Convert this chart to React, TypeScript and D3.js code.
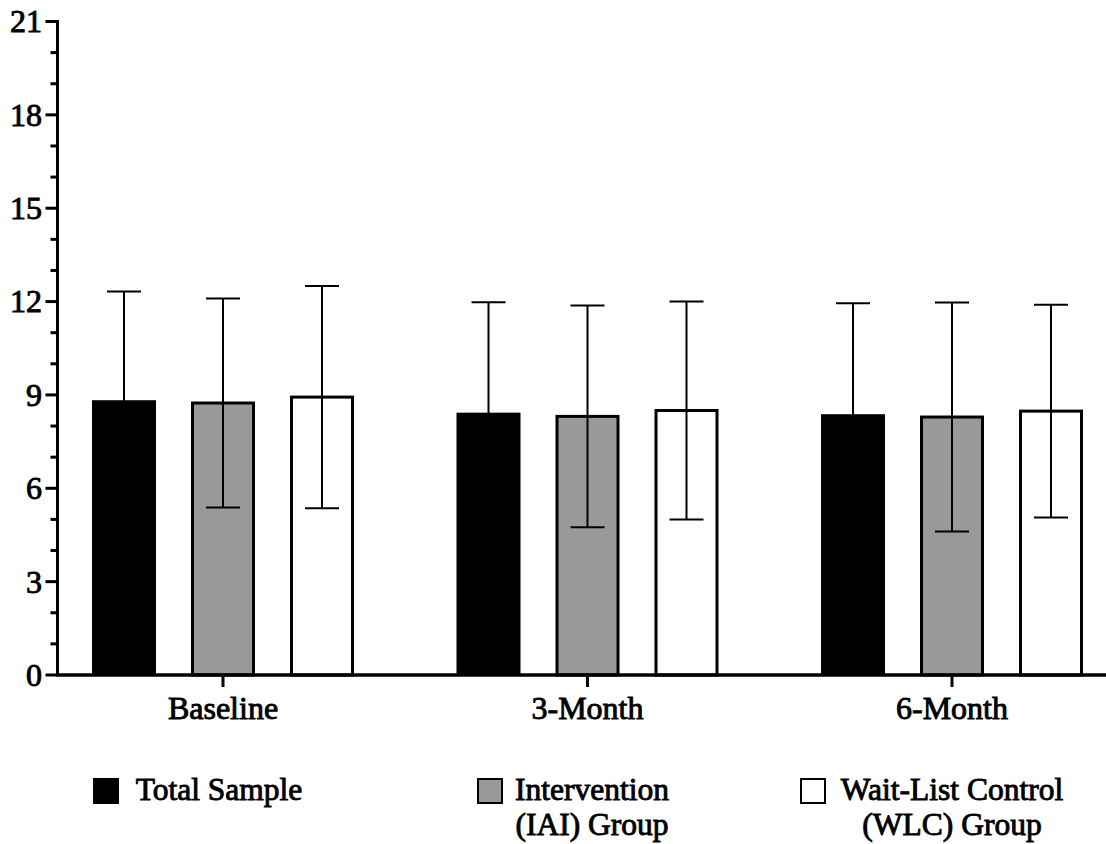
import React from "react";
import * as d3 from "d3";

// Time points and groups
const timepoints = ["Baseline", "3-Month", "6-Month"];
const groups = ["Total Sample", "Intervention (IAI) Group", "Wait-List Control (WLC) Group"];
const groupLegendLines = [["Total Sample"], ["Intervention", "(IAI) Group"], ["Wait-List Control", "(WLC) Group"]];

// Means per group, listed by time point
const meanTotal = [8.83, 8.43, 8.38];
const meanIAI = [8.74, 8.31, 8.29];
const meanWLC = [8.93, 8.50, 8.48];

// Standard deviations per group, listed by time point
const sdTotal = [3.49, 3.55, 3.57];
const sdIAI = [3.36, 3.56, 3.68];
const sdWLC = [3.57, 3.50, 3.42];

const yTicks = [0, 3, 6, 9, 12, 15, 18, 21];
const yMinorTicks = d3.range(0, 22, 1).filter((v) => v % 3 !== 0);

const fills = ["#000000", "#999999", "#ffffff"];

const W = 1106;
const H = 844;
const FONT = '"Liberation Serif", "Times New Roman", Times, serif';
const TEXT_WEIGHT = 0.9;

const textStyle = { fontFamily: FONT };

export default function App() {
  const means = [meanTotal, meanIAI, meanWLC];
  const sds = [sdTotal, sdIAI, sdWLC];

  const y = d3.scaleLinear().domain([0, 21]).range([675, 21.5]);
  const x = d3.scaleBand().domain(timepoints).range([40.75, 1134.25]).padding(0);
  const xs = d3
    .scaleBand()
    .domain(groups)
    .range([-131, 131])
    .paddingInner(35 / 99)
    .paddingOuter(0);

  const axisX = 57.5;
  const capHalf = 17;

  const legendCenters = [219, 592, 952];
  const legendSquares = [93, 477, 800];

  return (
    <svg
      width={W}
      height={H}
      style={{ position: "absolute", left: 0, top: 0, background: "#fff", fontFamily: FONT }}
    >
      {/* bars */}
      {timepoints.map((t, ti) =>
        groups.map((g, gi) => {
          const x0 = (x(t) as number) + x.bandwidth() / 2 + (xs(g) as number);
          const m = means[gi][ti];
          return (
            <rect
              key={`bar-${t}-${g}`}
              x={x0 + (gi === 0 ? 0 : 1.5)}
              y={y(m)}
              width={xs.bandwidth() - (gi === 0 ? 0 : 3)}
              height={y(0) - y(m)}
              fill={fills[gi]}
              stroke={gi === 0 ? "none" : "#000"}
              strokeWidth={3}
            />
          );
        })
      )}

      {/* error bars */}
      {timepoints.map((t, ti) =>
        groups.map((g, gi) => {
          const cx = (x(t) as number) + x.bandwidth() / 2 + (xs(g) as number) + xs.bandwidth() / 2;
          const m = means[gi][ti];
          const s = sds[gi][ti];
          const hi = y(m + s);
          const lo = y(m - s);
          return (
            <g key={`err-${t}-${g}`} stroke="#000" strokeWidth={2}>
              <line x1={cx} x2={cx} y1={hi} y2={lo} />
              <line x1={cx - capHalf} x2={cx + capHalf} y1={hi} y2={hi} />
              <line x1={cx - capHalf} x2={cx + capHalf} y1={lo} y2={lo} />
            </g>
          );
        })
      )}

      {/* y axis */}
      <line x1={axisX} x2={axisX} y1={y(21) - 1.5} y2={y(0) + 1.5} stroke="#000" strokeWidth={3} />
      {yTicks.map((v) => (
        <g key={`yt-${v}`}>
          <line x1={axisX - 12} x2={axisX} y1={y(v)} y2={y(v)} stroke="#000" strokeWidth={3} />
          <text
            x={42}
            y={y(v)}
            dy="0.34em"
            textAnchor="end"
            fontSize={32}
            fill="#000"
            stroke="#000"
            strokeWidth={TEXT_WEIGHT}
            style={textStyle}
          >
            {v}
          </text>
        </g>
      ))}
      {yMinorTicks.map((v) => (
        <line key={`ym-${v}`} x1={axisX - 7} x2={axisX} y1={y(v)} y2={y(v)} stroke="#000" strokeWidth={3} />
      ))}

      {/* x axis */}
      <line x1={axisX} x2={W} y1={y(0)} y2={y(0)} stroke="#000" strokeWidth={3.5} />
      {timepoints.map((t) => {
        const cx = (x(t) as number) + x.bandwidth() / 2;
        return (
          <g key={`xt-${t}`}>
            <line x1={cx} x2={cx} y1={y(0)} y2={y(0) + 12} stroke="#000" strokeWidth={3} />
            <text
              x={cx}
              y={719}
              textAnchor="middle"
              fontSize={32}
              fill="#000"
              stroke="#000"
              strokeWidth={TEXT_WEIGHT}
              style={textStyle}
            >
              {t}
            </text>
          </g>
        );
      })}

      {/* legend */}
      {groups.map((g, gi) => (
        <g key={`lg-${g}`}>
          <rect
            x={legendSquares[gi] + 1}
            y={779}
            width={24}
            height={24}
            fill={fills[gi]}
            stroke="#000"
            strokeWidth={2}
          />
          {groupLegendLines[gi].map((line, li) => (
            <text
              key={line}
              x={legendCenters[gi]}
              y={800 + li * 35}
              textAnchor="middle"
              fontSize={31.5}
              fill="#000"
              stroke="#000"
              strokeWidth={TEXT_WEIGHT}
              style={textStyle}
            >
              {line}
            </text>
          ))}
        </g>
      ))}
    </svg>
  );
}
